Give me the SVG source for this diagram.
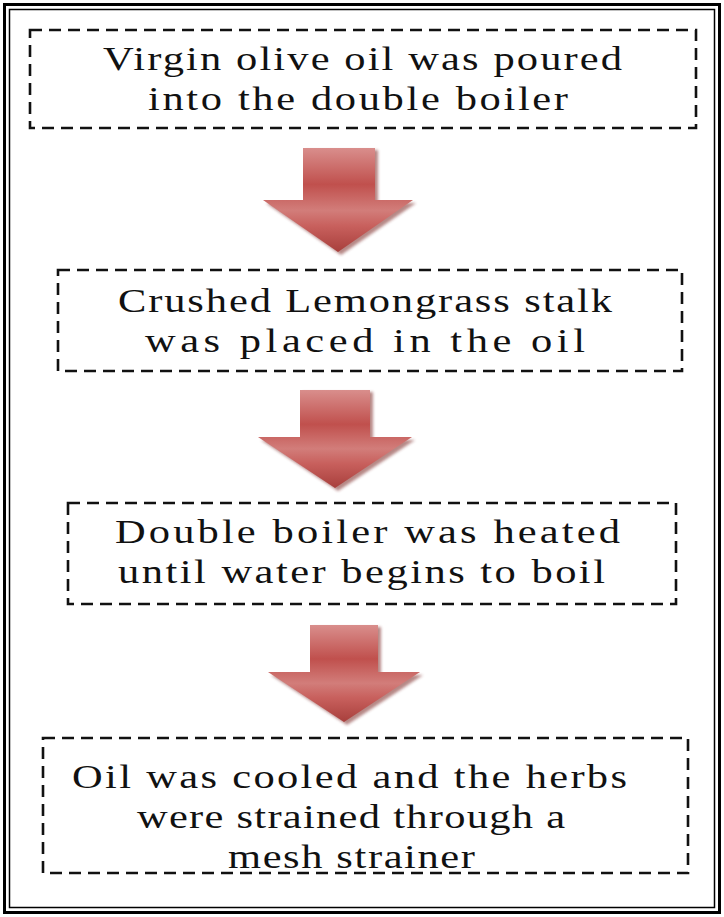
<svg xmlns="http://www.w3.org/2000/svg" width="724" height="917" viewBox="0 0 724 917">
<style>
.box{fill:none;stroke:#111;stroke-width:2.6;stroke-dasharray:12,7}
.t{font-family:"Liberation Serif","Times New Roman",serif;font-size:34px;fill:#111;text-anchor:start}
.arr{fill:url(#g)}
.sh{fill:#7a2624;opacity:0.55}
</style>
<defs>
<linearGradient id="g" x1="0" y1="0" x2="0" y2="1">
<stop offset="0" stop-color="#d98e8c"/>
<stop offset="0.35" stop-color="#c0504d"/>
<stop offset="0.6" stop-color="#d27d7a"/>
<stop offset="0.75" stop-color="#c8605d"/>
<stop offset="1" stop-color="#a83f3c"/>
</linearGradient>
<filter id="blur" x="-20%" y="-20%" width="140%" height="140%"><feGaussianBlur stdDeviation="1.5"/></filter>
</defs>
<rect x="0" y="0" width="724" height="917" fill="#fff"/>
<g id="frame">
<rect x="4.5" y="4.5" width="715" height="908" fill="none" stroke="#000" stroke-width="3"/>
<rect x="9.5" y="9.5" width="705" height="898" fill="none" stroke="#000" stroke-width="1.5"/>
</g>
<g id="node1">
<rect class="box" x="30" y="30" width="666" height="98"/>
<text class="t" transform="translate(103,70) scale(1.25,1)" textLength="415.2" lengthAdjust="spacing">Virgin olive oil was poured</text>
<text class="t" transform="translate(148,110) scale(1.25,1)" textLength="336" lengthAdjust="spacing">into the double boiler</text>
</g>
<g id="node2">
<rect class="box" x="58" y="270" width="624" height="101"/>
<text class="t" transform="translate(118,312) scale(1.25,1)" textLength="395.2" lengthAdjust="spacing">Crushed Lemongrass stalk</text>
<text class="t" transform="translate(145,352) scale(1.25,1)" textLength="352" lengthAdjust="spacing">was placed in the oil</text>
</g>
<g id="node3">
<rect class="box" x="68" y="503" width="608" height="101"/>
<text class="t" transform="translate(115,543) scale(1.25,1)" textLength="404" lengthAdjust="spacing">Double boiler was heated</text>
<text class="t" transform="translate(118,583) scale(1.25,1)" textLength="389.6" lengthAdjust="spacing">until water begins to boil</text>
</g>
<g id="node4">
<rect class="box" x="43" y="738" width="645" height="135"/>
<text class="t" transform="translate(72,788) scale(1.25,1)" textLength="444" lengthAdjust="spacing">Oil was cooled and the herbs</text>
<text class="t" transform="translate(137,828) scale(1.25,1)" textLength="342.4" lengthAdjust="spacing">were strained through a</text>
<text class="t" transform="translate(228,868) scale(1.25,1)" textLength="197.6" lengthAdjust="spacing">mesh strainer</text>
</g>
<g id="connectors">
<g id="arrow1">
<path class="sh" filter="url(#blur)" d="M306,150 H378 V203 H416 L341,255 L266,203 H306 Z"/>
<path class="arr" d="M303,148 H375 V200 H413 L338,252 L263,200 H303 Z"/>
</g>
<g id="arrow2">
<path class="sh" filter="url(#blur)" d="M303,392 H373 V440 H415 L338,491 L261,440 H303 Z"/>
<path class="arr" d="M300,390 H370 V437 H412 L335,488 L258,437 H300 Z"/>
</g>
<g id="arrow3">
<path class="sh" filter="url(#blur)" d="M313,627 H381 V675 H423 L347,725 L271,675 H313 Z"/>
<path class="arr" d="M310,625 H378 V672 H420 L344,722 L268,672 H310 Z"/>
</g>
</g>
</svg>
